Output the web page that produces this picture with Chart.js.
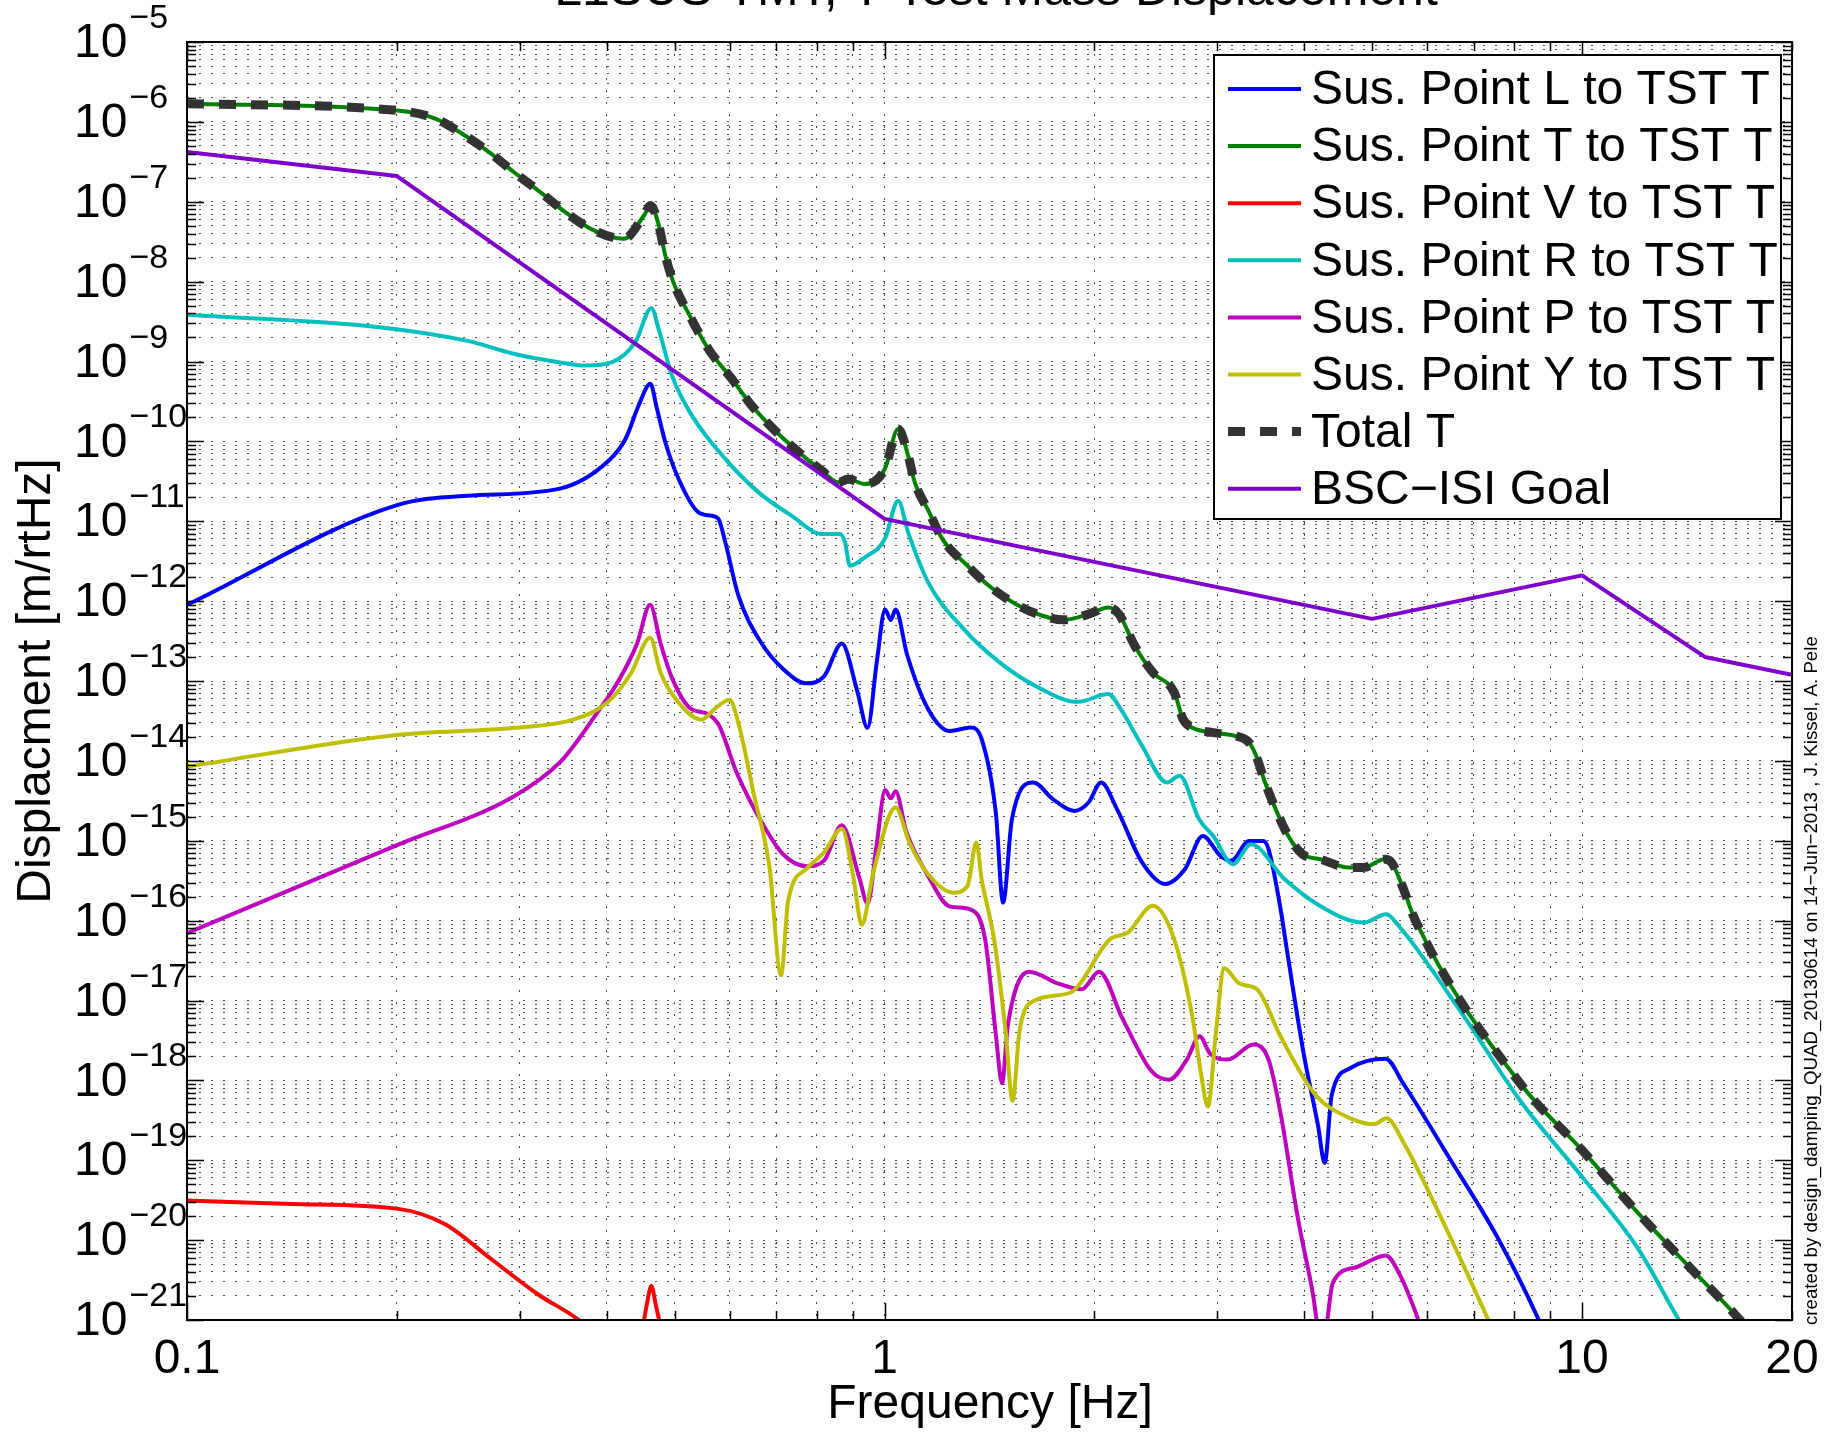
<!DOCTYPE html>
<html>
<head>
<meta charset="utf-8">
<title>Test Mass Displacement</title>
<script src="https://cdn.jsdelivr.net/npm/chart.js@4.4.1/dist/chart.umd.min.js"></script>
<style>
  html, body { margin: 0; padding: 0; background: #fff; }
  #lienzo { display: block; }
</style>
</head>
<body>
<canvas id="lienzo" width="1837" height="1434"></canvas>
<script>
// Datos (frecuencia en Hz, desplazamiento en m/rtHz)
const freqL = [0.1, 0.2, 0.2525, 0.3413, 0.4025, 0.4252, 0.4441, 0.4616, 0.4719, 0.485, 0.5068, 0.5412, 0.5653, 0.5779, 0.5912, 0.6174, 0.6632, 0.7161, 0.7734, 0.8196, 0.8685, 0.9134, 0.9456, 0.9752, 1.002, 1.021, 1.037, 1.078, 1.155, 1.24, 1.33, 1.378, 1.444, 1.479, 1.523, 1.634, 1.743, 1.871, 1.961, 2.044, 2.155, 2.34, 2.527, 2.695, 2.859, 3.032, 3.141, 3.331, 3.491, 3.553, 3.704, 3.748, 3.99, 4.18, 4.277, 4.377, 4.657, 5.229, 5.54, 6.47, 7.54, 8.67, 9.5];
const valL = [9.0e-13, 1.59e-11, 2.09e-11, 2.54e-11, 5.75e-11, 1.07e-10, 2.81e-10, 5.25e-10, 2.54e-10, 9.75e-11, 3.38e-11, 1.29e-11, 1.17e-11, 1.07e-11, 5.46e-12, 1.17e-12, 3.16e-13, 1.40e-13, 9.35e-14, 1.15e-13, 2.95e-13, 7.63e-14, 2.59e-14, 1.78e-13, 7.85e-13, 5.8e-13, 7.85e-13, 2.1e-13, 4.44e-14, 2.37e-14, 2.61e-14, 1.87e-14, 2.25e-15, 1.68e-16, 1.86e-15, 5.36e-15, 3.32e-15, 2.36e-15, 3.01e-15, 5.36e-15, 2.47e-15, 5.35e-16, 2.87e-16, 4.39e-16, 1.146e-15, 6.45e-16, 5.6e-16, 9.95e-16, 9.95e-16, 7.84e-16, 1.26e-16, 6.43e-17, 2.15e-18, 2.83e-19, 9.27e-20, 6.58e-19, 1.43e-18, 1.87e-18, 9.2e-19, 1.03e-19, 1.14e-20, 1e-21, 1.5e-22];

// El total lo domina el punto T, así que comparten la misma curva
const freqTotal = [0.1, 0.2, 0.227, 0.248, 0.271, 0.294, 0.321, 0.351, 0.383, 0.423, 0.452, 0.462, 0.474, 0.485, 0.498, 0.524, 0.559, 0.604, 0.645, 0.693, 0.744, 0.813, 0.859, 0.887, 0.937, 1.001, 1.046, 1.081, 1.105, 1.155, 1.211, 1.315, 1.411, 1.541, 1.684, 1.807, 1.961, 2.093, 2.168, 2.285, 2.425, 2.602, 2.679, 2.759, 2.96, 3.178, 3.331, 3.41, 3.512, 3.639, 3.792, 3.975, 4.215, 4.632, 4.856, 5.21, 5.334, 5.525, 5.758, 8.15, 10.0, 12.0, 14.54, 16.84, 18.5];
const valTotal = [1.69e-6, 1.39e-6, 1.10e-6, 7.1e-7, 4.19e-7, 2.36e-7, 1.32e-7, 7.08e-8, 4.38e-8, 3.43e-8, 6.73e-8, 9.0e-8, 5.31e-8, 2.12e-8, 9.86e-9, 3.95e-9, 1.44e-9, 6.07e-10, 2.81e-10, 1.43e-10, 8.05e-11, 4.3e-11, 3.07e-11, 3.38e-11, 2.92e-11, 4.51e-11, 1.43e-10, 6.62e-11, 3.07e-11, 1.375e-11, 5.98e-12, 2.77e-12, 1.56e-12, 9.2e-13, 6.56e-13, 5.83e-13, 6.87e-13, 8.35e-13, 6.87e-13, 2.75e-13, 1.28e-13, 7.2e-14, 3.33e-14, 2.61e-14, 2.26e-14, 2.06e-14, 1.70e-14, 1.156e-14, 5.36e-15, 2.47e-15, 1.15e-15, 6.78e-16, 5.86e-16, 4.62e-16, 4.62e-16, 5.86e-16, 5.33e-16, 2.71e-16, 1.04e-16, 9.2e-19, 1.34e-19, 2.24e-20, 3.85e-21, 1e-21, 3.5e-22];

const freqV = [0.1, 0.1415, 0.2, 0.2338, 0.2729, 0.3184, 0.3645, 0.4013, 0.4489, 0.4559, 0.4631, 0.4703, 0.4793, 0.5466];
const valV = [3.14e-20, 2.84e-20, 2.48e-20, 1.6e-20, 5.8e-21, 2.1e-21, 1e-21, 4.6e-22, 7.6e-22, 1.5e-21, 2.67e-21, 1.5e-21, 7.6e-22, 2.3e-22];

const freqR = [0.1, 0.1886, 0.2525, 0.2948, 0.3413, 0.3726, 0.4069, 0.4392, 0.4632, 0.4744, 0.4957, 0.5296, 0.5912, 0.6597, 0.7363, 0.8126, 0.8633, 0.8777, 0.8921, 0.9372, 1.001, 1.046, 1.081, 1.155, 1.299, 1.462, 1.644, 1.894, 2.093, 2.181, 2.34, 2.541, 2.649, 2.825, 2.96, 3.159, 3.351, 3.748, 4.215, 4.856, 5.241, 5.462, 6.72, 8.15, 10.0, 12.0, 13.77, 15.0];
const valR = [3.84e-9, 2.69e-9, 1.81e-9, 1.24e-9, 9.8e-10, 8.89e-10, 9.8e-10, 1.75e-9, 4.65e-9, 2.56e-9, 6.67e-10, 2.1e-10, 6.03e-11, 2.3e-11, 1.17e-11, 6.93e-12, 6.93e-12, 5.43e-12, 2.77e-12, 3.54e-12, 6.0e-12, 1.81e-11, 7.27e-12, 1.72e-12, 4.46e-13, 1.71e-13, 8.72e-14, 5.48e-14, 6.85e-14, 4.44e-14, 1.545e-14, 5.36e-15, 6.49e-15, 1.86e-15, 1.146e-15, 5.08e-16, 9.04e-16, 3.29e-16, 1.52e-16, 9.46e-17, 1.20e-16, 8.56e-17, 7.0e-18, 5.6e-19, 6.2e-20, 8.1e-21, 1e-21, 3e-22];

const freqP = [0.1, 0.2, 0.2948, 0.344, 0.3863, 0.4172, 0.4419, 0.4613, 0.4775, 0.4963, 0.526, 0.5572, 0.5792, 0.6137, 0.6632, 0.7161, 0.7734, 0.8196, 0.8685, 0.9204, 0.9456, 0.9752, 1.002, 1.021, 1.037, 1.074, 1.155, 1.239, 1.328, 1.394, 1.445, 1.474, 1.503, 1.611, 1.774, 1.917, 2.03, 2.194, 2.417, 2.559, 2.713, 2.83, 2.93, 3.105, 3.381, 3.553, 3.695, 3.914, 4.1, 4.245, 4.395, 4.747, 5.229, 5.497, 5.826, 6.1];
const valP = [6.98e-17, 8.8e-16, 3.64e-15, 1.0e-14, 3.88e-14, 1.07e-13, 2.95e-13, 9.0e-13, 2.95e-13, 1.07e-13, 4.59e-14, 3.88e-14, 2.77e-14, 7.16e-15, 1.85e-15, 6.73e-16, 4.8e-16, 5.68e-16, 1.56e-15, 3.42e-16, 1.63e-16, 9.42e-16, 4.31e-15, 3.4e-15, 4.17e-15, 1.32e-15, 3.63e-16, 1.51e-16, 1.376e-16, 5.83e-17, 3.55e-18, 9.2e-19, 4.98e-18, 2.29e-17, 1.63e-17, 1.38e-17, 2.29e-17, 5.93e-18, 1.29e-18, 1.02e-18, 1.82e-18, 3.57e-18, 2.15e-18, 1.82e-18, 2.82e-18, 1.82e-18, 3.96e-19, 1.89e-20, 2.49e-21, 4.6e-22, 2.95e-21, 4.58e-21, 6.42e-21, 3.49e-21, 1e-21, 3e-22];

const freqY = [0.1, 0.2, 0.2948, 0.3574, 0.4013, 0.4335, 0.4612, 0.4775, 0.5059, 0.5466, 0.5725, 0.5996, 0.6185, 0.6504, 0.6838, 0.7108, 0.7273, 0.7734, 0.8196, 0.8685, 0.9027, 0.9275, 0.9641, 1.037, 1.086, 1.155, 1.254, 1.315, 1.354, 1.378, 1.411, 1.436, 1.491, 1.526, 1.562, 1.642, 1.844, 2.105, 2.232, 2.425, 2.602, 2.766, 2.84, 2.908, 2.988, 3.069, 3.227, 3.42, 3.695, 4.148, 4.657, 5.03, 5.248, 5.54, 6.34, 7.34, 7.8];
const valY = [8.47e-15, 2.11e-14, 2.59e-14, 3.28e-14, 5.45e-14, 1.27e-13, 3.49e-13, 1.27e-13, 5.45e-14, 3.28e-14, 4.59e-14, 5.82e-14, 2.77e-14, 3.64e-15, 4.8e-16, 2.07e-17, 1.74e-16, 4.48e-16, 7.19e-16, 1.41e-15, 3.42e-16, 8.85e-17, 4.05e-16, 2.6e-15, 9.4e-16, 3.8e-16, 2.24e-16, 2.71e-16, 9.5e-16, 3.29e-16, 1.26e-16, 5.83e-17, 4.22e-18, 5.56e-19, 4.22e-18, 1.0e-17, 1.25e-17, 5.83e-17, 7.08e-17, 1.53e-16, 5.83e-17, 5.93e-18, 1.29e-18, 4.7e-19, 4.22e-18, 2.53e-17, 1.63e-17, 1.38e-17, 3.57e-18, 6.59e-19, 3.35e-19, 2.83e-19, 3.35e-19, 1.7e-19, 1.6e-20, 1e-21, 3e-22];

const freqGoal = [0.1, 0.2, 1, 5, 10, 15, 20];
const valGoal = [4.2e-7, 2.1e-7, 1.07e-11, 6.0e-13, 2.1e-12, 2.0e-13, 1.2e-13];

// Ejes
const ticksX = [0.1, 0.2, 0.3, 0.4, 0.5, 0.6, 0.7, 0.8, 0.9, 1, 2, 3, 4, 5, 6, 7, 8, 9, 10, 20];
const etiquetasX = [0.1, 1, 10, 20];
const expY = [-21, -20, -19, -18, -17, -16, -15, -14, -13, -12, -11, -10, -9, -8, -7, -6, -5];
const mantisas = [1, 2, 3, 4, 5, 6, 7, 8, 9];

const titulo = "L1SUS TMT, T Test Mass Displacement";
const nota = "created by design_damping_QUAD_20130614 on 14\u2212Jun\u22122013 , J. Kissel, A. Pele";
const FUENTE = '"Liberation Sans", Arial, Helvetica, sans-serif';

function serie(frec, vals) {
  return frec.map(function (f, i) { return { x: f, y: vals[i] }; });
}

function esDecada(v) {
  const l = Math.log10(v);
  return Math.abs(l - Math.round(l)) < 1e-6;
}

// Ticks hacia adentro, marco, leyenda y textos (estilo MATLAB)
const marco = {
  id: "marco",
  afterDraw(chart) {
    const ctx = chart.ctx;
    const a = chart.chartArea;
    const x = chart.scales.x;
    const y = chart.scales.y;
    ctx.save();

    ctx.strokeStyle = "#000";
    ctx.lineWidth = 1.5;
    ctx.beginPath();
    y.ticks.forEach(function (t) {
      const py = Math.round(y.getPixelForValue(t.value)) + 0.5;
      const largo = esDecada(t.value) ? 17 : 9;
      ctx.moveTo(a.left, py); ctx.lineTo(a.left + largo, py);
      ctx.moveTo(a.right, py); ctx.lineTo(a.right - largo, py);
    });
    x.ticks.forEach(function (t) {
      const px = Math.round(x.getPixelForValue(t.value)) + 0.5;
      const largo = esDecada(t.value) ? 17 : 9;
      ctx.moveTo(px, a.bottom); ctx.lineTo(px, a.bottom - largo);
      ctx.moveTo(px, a.top); ctx.lineTo(px, a.top + largo);
    });
    ctx.stroke();

    ctx.lineWidth = 2;
    ctx.strokeRect(a.left, a.top, a.right - a.left, a.bottom - a.top);

    // Leyenda
    const caja = { x: 1214, y: 55, w: 567, h: 464 };
    ctx.fillStyle = "#fff";
    ctx.fillRect(caja.x, caja.y, caja.w, caja.h);
    ctx.strokeRect(caja.x, caja.y, caja.w, caja.h);
    ctx.font = "48px " + FUENTE;
    ctx.textBaseline = "middle";
    ctx.textAlign = "left";
    chart.data.datasets.forEach(function (ds, i) {
      const fy = 89 + i * 57.1;
      ctx.save();
      ctx.strokeStyle = ds.borderColor;
      ctx.lineWidth = ds.borderWidth;
      ctx.setLineDash(ds.borderDash || []);
      ctx.beginPath();
      ctx.moveTo(1228, fy);
      ctx.lineTo(1301, fy);
      ctx.stroke();
      ctx.restore();
      ctx.fillStyle = "#000";
      ctx.fillText(ds.label, 1311, fy + 2);
    });

    // Etiquetas del eje Y: 10 con exponente
    ctx.fillStyle = "#000";
    expY.forEach(function (e) {
      const py = y.getPixelForValue(Math.pow(10, e));
      ctx.font = "48px " + FUENTE;
      ctx.textBaseline = "middle";
      ctx.fillText("10", 74, py + 2);
      const ancho = ctx.measureText("10").width;
      ctx.font = "34px " + FUENTE;
      ctx.textBaseline = "alphabetic";
      ctx.fillText("\u2212" + Math.abs(e), 74 + ancho + 2, py - 14);
    });

    // Etiquetas del eje X
    ctx.font = "48px " + FUENTE;
    ctx.textAlign = "center";
    ctx.textBaseline = "middle";
    etiquetasX.forEach(function (v) {
      ctx.fillText(String(v), x.getPixelForValue(v), 1360);
    });

    ctx.fillText("Frequency [Hz]", 990, 1405);

    ctx.save();
    ctx.translate(37, 681);
    ctx.rotate(-Math.PI / 2);
    ctx.fillText("Displacment [m/rtHz]", 0, 0);
    ctx.restore();

    // Título, cortado arriba como en la figura original
    ctx.font = "50px " + FUENTE;
    ctx.textBaseline = "alphabetic";
    ctx.fillText(titulo, 996, 5);

    // Nota lateral
    ctx.save();
    ctx.translate(1812, 1325);
    ctx.rotate(-Math.PI / 2);
    ctx.font = "18.7px " + FUENTE;
    ctx.textAlign = "left";
    ctx.textBaseline = "middle";
    ctx.fillText(nota, 0, 0);
    ctx.restore();

    ctx.restore();
  }
};

const ctx = document.getElementById("lienzo").getContext("2d");

new Chart(ctx, {
  type: "line",
  data: {
    datasets: [
      { label: "Sus. Point L to TST T", data: serie(freqL, valL), borderColor: "#0000ff", borderWidth: 4, order: 7 },
      { label: "Sus. Point T to TST T", data: serie(freqTotal, valTotal), borderColor: "#008000", borderWidth: 4, order: 6 },
      { label: "Sus. Point V to TST T", data: serie(freqV, valV), borderColor: "#ff0000", borderWidth: 4, order: 5 },
      { label: "Sus. Point R to TST T", data: serie(freqR, valR), borderColor: "#00bfbf", borderWidth: 4, order: 4 },
      { label: "Sus. Point P to TST T", data: serie(freqP, valP), borderColor: "#bf00bf", borderWidth: 4, order: 3 },
      { label: "Sus. Point Y to TST T", data: serie(freqY, valY), borderColor: "#bfbf00", borderWidth: 4, order: 2 },
      { label: "Total T", data: serie(freqTotal, valTotal), borderColor: "#333333", borderWidth: 9, borderDash: [17, 15], order: 1 },
      { label: "BSC\u2212ISI Goal", data: serie(freqGoal, valGoal), borderColor: "#7f00cc", borderWidth: 4, order: 0, cubicInterpolationMode: "default", tension: 0 }
    ]
  },
  options: {
    responsive: false,
    animation: false,
    devicePixelRatio: 1,
    layout: { padding: { top: 42, right: 45, left: 0, bottom: 0 } },
    plugins: {
      legend: { display: false },
      tooltip: { enabled: false },
      title: { display: false }
    },
    elements: {
      point: { radius: 0, hoverRadius: 0 },
      line: { cubicInterpolationMode: "monotone", borderCapStyle: "butt", borderJoinStyle: "round", fill: false }
    },
    scales: {
      x: {
        type: "logarithmic",
        min: 0.1,
        max: 20,
        afterBuildTicks: function (s) { s.ticks = ticksX.map(function (v) { return { value: v }; }); },
        afterFit: function (s) { s.height = 114; },
        ticks: { display: false },
        grid: { color: "rgba(0,0,0,0.7)", lineWidth: 1, drawTicks: false },
        border: { display: false, dash: [2, 10] }
      },
      y: {
        type: "logarithmic",
        min: 1e-21,
        max: 1e-5,
        afterBuildTicks: function (s) {
          const lista = [];
          expY.forEach(function (e) {
            mantisas.forEach(function (m) {
              const v = m * Math.pow(10, e);
              if (v <= 1e-5 * 1.0001) lista.push({ value: v });
            });
          });
          s.ticks = lista;
        },
        afterFit: function (s) { s.width = 187; },
        ticks: { display: false },
        grid: { color: "rgba(0,0,0,0.7)", lineWidth: 1, drawTicks: false },
        border: { display: false, dash: [2, 10] }
      }
    }
  },
  plugins: [marco]
});
</script>
</body>
</html>
